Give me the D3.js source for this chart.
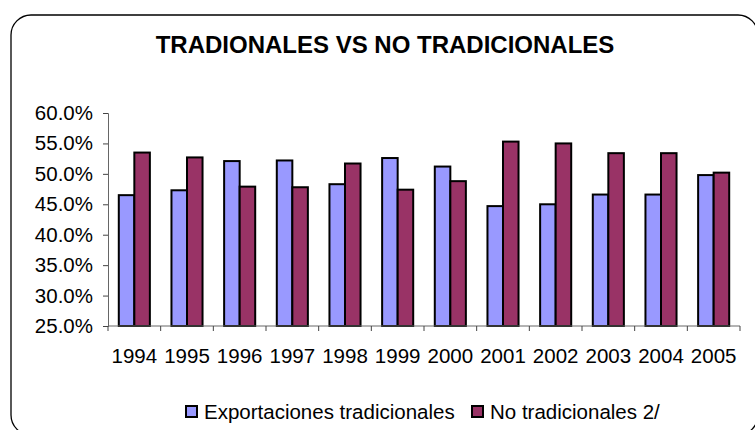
<!DOCTYPE html>
<html>
<head>
<meta charset="utf-8">
<script src="https://d3js.org/d3.v7.min.js"></script>
<style>
  body{margin:0;background:#fff;}
  svg text{font-family:Arial,"Liberation Sans",sans-serif;fill:#000;}
</style>
</head>
<body>
<script>
// chart data
const years=['1994','1995','1996','1997','1998','1999','2000','2001','2002','2003','2004','2005'];
const seriesNames=['Exportaciones tradicionales','No tradicionales 2/'];
const tradicionales=[0.465,0.473,0.521,0.522,0.483,0.526,0.512,0.447,0.450,0.466,0.466,0.498];
const noTradicionales=[0.535,0.527,0.479,0.478,0.517,0.474,0.488,0.553,0.550,0.534,0.534,0.502];
const yTicks=[0.25,0.30,0.35,0.40,0.45,0.50,0.55,0.60];
const colors=['#9999FF','#993366'];

const W=755, H=430;
const plotLeft=108, plotRight=740, plotTop=113, plotBottom=326;

const svg=d3.select('body').append('svg')
  .attr('width',W).attr('height',H);

// rounded outer frame, runs off the right and bottom edge
svg.append('rect')
  .attr('x',11).attr('y',15).attr('width',747).attr('height',420)
  .attr('rx',20).attr('ry',20)
  .attr('fill','#fff').attr('stroke','#000').attr('stroke-width',1.3);

svg.append('text')
  .attr('x',385).attr('y',53)
  .attr('text-anchor','middle')
  .style('font-size','24px').style('font-weight','bold')
  .text('TRADIONALES VS NO TRADICIONALES');

const x0=d3.scaleBand().domain(years).range([plotLeft,plotRight]).padding(0);
const bw=x0.bandwidth();
const x1=d3.scaleBand().domain(seriesNames).range([bw*0.205,bw*0.795]).padding(0);
const y=d3.scaleLinear().domain([0.25,0.60]).range([plotBottom,plotTop]);

const rows=years.map((yr,i)=>({year:yr,values:[tradicionales[i],noTradicionales[i]]}));

// bars
const groups=svg.selectAll('g.year').data(rows).enter().append('g')
  .attr('class','year')
  .attr('transform',d=>'translate('+x0(d.year)+',0)');

groups.selectAll('rect').data(d=>d.values.map((v,j)=>({name:seriesNames[j],value:v,j:j})))
  .enter().append('rect')
  .attr('x',d=>x1(d.name))
  .attr('y',d=>y(d.value))
  .attr('width',x1.bandwidth())
  .attr('height',d=>plotBottom-y(d.value))
  .attr('fill',d=>colors[d.j])
  .attr('stroke','#000').attr('stroke-width',2);

// y axis
const yAxis=d3.axisLeft(y).tickValues(yTicks).tickFormat(d3.format('.1%')).tickSize(5).tickPadding(10);
const gy=svg.append('g').attr('transform','translate('+plotLeft+',0)').call(yAxis);
gy.select('.domain').attr('stroke','#666');
gy.selectAll('.tick line').attr('stroke','#444');
gy.selectAll('text').style('font-size','20.5px').attr('font-family','Arial, Liberation Sans, sans-serif');

// x axis, ticks between the categories
const gx=svg.append('g').attr('transform','translate(0,'+plotBottom+')');
gx.append('line').attr('x1',plotLeft).attr('x2',plotRight).attr('y1',0).attr('y2',0).attr('stroke','#666');
const edges=years.map(d=>x0(d)).concat([plotRight]);
gx.selectAll('line.tk').data(edges).enter().append('line')
  .attr('class','tk')
  .attr('x1',d=>d).attr('x2',d=>d).attr('y1',0).attr('y2',5)
  .attr('stroke','#444');
gx.selectAll('text').data(years).enter().append('text')
  .attr('x',d=>x0(d)+bw/2).attr('y',37)
  .attr('text-anchor','middle')
  .style('font-size','20.5px')
  .text(d=>d);

// legend
const legend=svg.append('g').attr('transform','translate(0,406)');
const legX=[186,472];
legend.selectAll('rect').data(seriesNames).enter().append('rect')
  .attr('x',(d,i)=>legX[i]).attr('y',0)
  .attr('width',11).attr('height',11)
  .attr('fill',(d,i)=>colors[i])
  .attr('stroke','#000').attr('stroke-width',2);
legend.selectAll('text').data(seriesNames).enter().append('text')
  .attr('x',(d,i)=>legX[i]+18).attr('y',12.5)
  .style('font-size','20.5px')
  .text(d=>d);
</script>
</body>
</html>
